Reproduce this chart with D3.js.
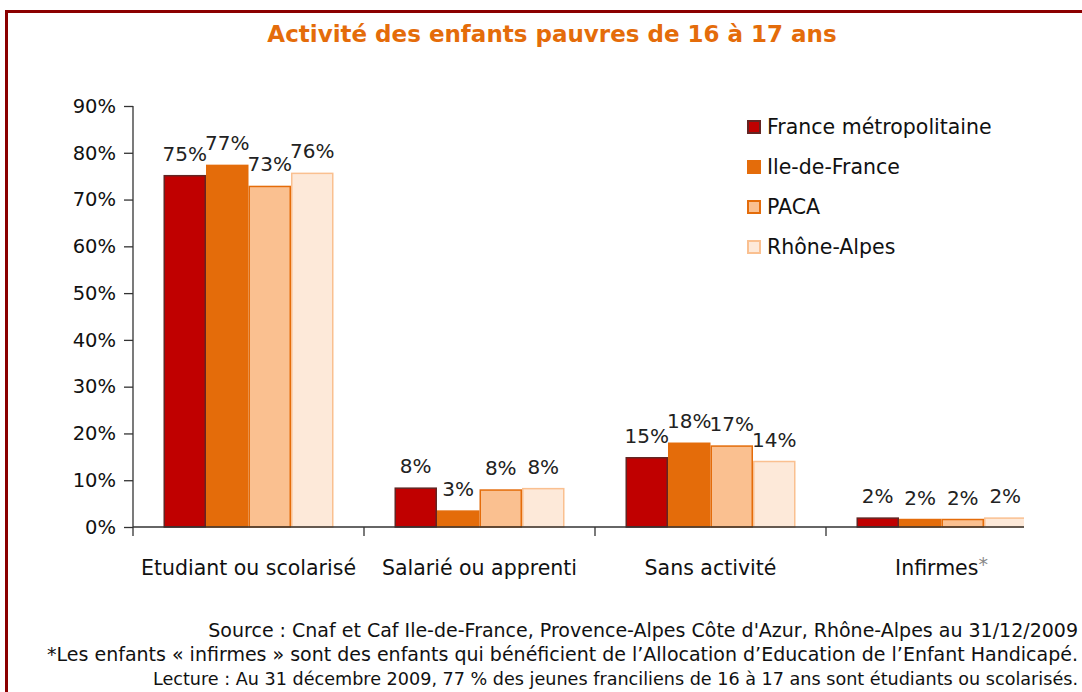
<!DOCTYPE html>
<html>
<head>
<meta charset="utf-8">
<script src="https://cdn.jsdelivr.net/npm/d3@7"></script>
<style>
  body { margin: 0; background: #fff; }
  svg { display: block; font-family: "DejaVu Sans", Verdana, sans-serif; }
</style>
</head>
<body>
<script>
// Activité des enfants pauvres de 16 à 17 ans - bar chart

var categories = ["Etudiant ou scolarisé", "Salarié ou apprenti", "Sans activité", "Infirmes"];
var series = ["France métropolitaine", "Ile-de-France", "PACA", "Rhône-Alpes"];
var franceMetro = [75.1, 8.3, 14.8, 1.9];
var ileDeFrance = [77.3, 3.4, 17.9, 1.6];
var paca = [72.8, 7.9, 17.3, 1.6];
var rhoneAlpes = [75.6, 8.2, 14.0, 1.9];
var yTicks = [0, 10, 20, 30, 40, 50, 60, 70, 80, 90];
var notes = [
  "Source : Cnaf et Caf Ile-de-France, Provence-Alpes Côte d'Azur, Rhône-Alpes au 31/12/2009",
  "*Les enfants « infirmes » sont des enfants qui bénéficient de l’Allocation d’Education de l’Enfant Handicapé.",
  "Lecture : Au 31 décembre 2009, 77 % des jeunes franciliens de 16 à 17 ans sont étudiants ou scolarisés."
];
var noteSizes = [19, 19, 17.6];

var values = [franceMetro, ileDeFrance, paca, rhoneAlpes];
var fills = ["#C00000", "#E46C0A", "#FAC090", "#FDE9D9"];
var strokes = ["#632523", "#E46C0A", "#E46C0A", "#FAC090"];

var w = 1082, h = 692;
var plotLeft = 133, plotBottom = 527, plotTop = 106, plotEnd = 1023;

var svg = d3.select("body").append("svg")
  .attr("width", w)
  .attr("height", h);

// cadre rouge
svg.append("rect")
  .attr("x", 6.5).attr("y", 11.5)
  .attr("width", w + 20).attr("height", h + 20)
  .attr("fill", "none")
  .attr("stroke", "#8B0000")
  .attr("stroke-width", 3);

svg.append("text")
  .attr("x", 552).attr("y", 42)
  .attr("text-anchor", "middle")
  .attr("fill", "#E46C0A")
  .attr("font-weight", "bold")
  .attr("font-size", 23)
  .text("Activité des enfants pauvres de 16 à 17 ans");

var x0 = d3.scaleBand()
  .domain(categories)
  .range([plotLeft, plotLeft + 231 * 4])
  .paddingInner(0.264)
  .paddingOuter(0.132);

var x1 = d3.scaleBand()
  .domain(series)
  .range([0, x0.bandwidth()]);

var y = d3.scaleLinear()
  .domain([0, 90])
  .range([plotBottom, plotTop]);

svg.append("clipPath").attr("id", "plot")
  .append("rect")
  .attr("x", 0).attr("y", 0)
  .attr("width", plotEnd + 1).attr("height", h);

var plot = svg.append("g").attr("clip-path", "url(#plot)");

// barres
var groups = plot.selectAll("g.cat")
  .data(categories)
  .enter()
  .append("g")
  .attr("class", "cat")
  .attr("transform", function(d) { return "translate(" + x0(d) + ",0)"; });

function rows(d, ci) {
  return series.map(function(s, si) { return { s: s, si: si, v: values[si][ci] }; });
}

groups.selectAll("rect")
  .data(rows)
  .enter()
  .append("rect")
  .attr("x", function(d) { return x1(d.s) + 0.75; })
  .attr("y", function(d) { return y(d.v); })
  .attr("width", x1.bandwidth() - 1.5)
  .attr("height", function(d) { return plotBottom - y(d.v); })
  .attr("fill", function(d) { return fills[d.si]; })
  .attr("stroke", function(d) { return strokes[d.si]; })
  .attr("stroke-width", 1.5);

// étiquettes
groups.selectAll("text")
  .data(rows)
  .enter()
  .append("text")
  .attr("x", function(d) { return x1(d.s) + x1.bandwidth() / 2; })
  .attr("y", function(d) { return y(d.v) - 15; })
  .attr("text-anchor", "middle")
  .attr("font-size", 20)
  .attr("fill", "#222")
  .text(function(d) { return d3.format(".0f")(d.v) + "%"; });

// axe y
var yAxis = svg.append("g")
  .attr("transform", "translate(" + plotLeft + ",0)")
  .call(d3.axisLeft(y)
    .tickValues(yTicks)
    .tickSize(9)
    .tickPadding(8)
    .tickFormat(function(d) { return d + "%"; }));
yAxis.select(".domain").attr("stroke", "#333").attr("stroke-width", 1.3)
  .attr("d", "M0," + plotTop + "V" + plotBottom);
yAxis.selectAll(".tick line").attr("stroke", "#333").attr("stroke-width", 1.3);
yAxis.selectAll(".tick text")
  .attr("font-size", 19.5)
  .attr("fill", "#111")
  .attr("font-family", "DejaVu Sans, Verdana, sans-serif");

// axe x
var xg = plot.append("g");
xg.append("line")
  .attr("x1", plotLeft).attr("x2", plotLeft + 231 * 4)
  .attr("y1", plotBottom).attr("y2", plotBottom)
  .attr("stroke", "#333").attr("stroke-width", 1.3);
xg.selectAll("line.sep")
  .data(categories)
  .enter()
  .append("line")
  .attr("class", "sep")
  .attr("x1", function(d) { return x0(d) - x0.step() * 0.132; })
  .attr("x2", function(d) { return x0(d) - x0.step() * 0.132; })
  .attr("y1", plotBottom).attr("y2", plotBottom + 9)
  .attr("stroke", "#333").attr("stroke-width", 1.3);

var catLabels = svg.selectAll("text.cat")
  .data(categories)
  .enter()
  .append("text")
  .attr("class", "cat")
  .attr("x", function(d) { return x0(d) + x0.bandwidth() / 2; })
  .attr("y", 575)
  .attr("text-anchor", "middle")
  .attr("font-size", 20.5)
  .attr("fill", "#111")
  .text(function(d) { return d; });
catLabels.filter(function(d) { return d == "Infirmes"; })
  .append("tspan")
  .attr("fill", "#888")
  .attr("dy", -4)
  .attr("font-size", 19)
  .text("*");

// légende
var leg = svg.selectAll("g.leg")
  .data(series)
  .enter()
  .append("g")
  .attr("class", "leg")
  .attr("transform", function(d, i) { return "translate(748," + (121 + i * 40) + ")"; });
leg.append("rect")
  .attr("width", 12).attr("height", 12)
  .attr("fill", function(d, i) { return fills[i]; })
  .attr("stroke", function(d, i) { return strokes[i]; })
  .attr("stroke-width", 2);
leg.append("text")
  .attr("x", 19).attr("y", 13)
  .attr("font-size", 20.5)
  .attr("fill", "#111")
  .text(function(d) { return d; });

// notes
svg.selectAll("text.note")
  .data(notes)
  .enter()
  .append("text")
  .attr("class", "note")
  .attr("x", 1078)
  .attr("y", function(d, i) { return 637 + i * 24; })
  .attr("text-anchor", "end")
  .attr("font-size", function(d, i) { return noteSizes[i]; })
  .attr("fill", "#111")
  .text(function(d) { return d; });
</script>
</body>
</html>
